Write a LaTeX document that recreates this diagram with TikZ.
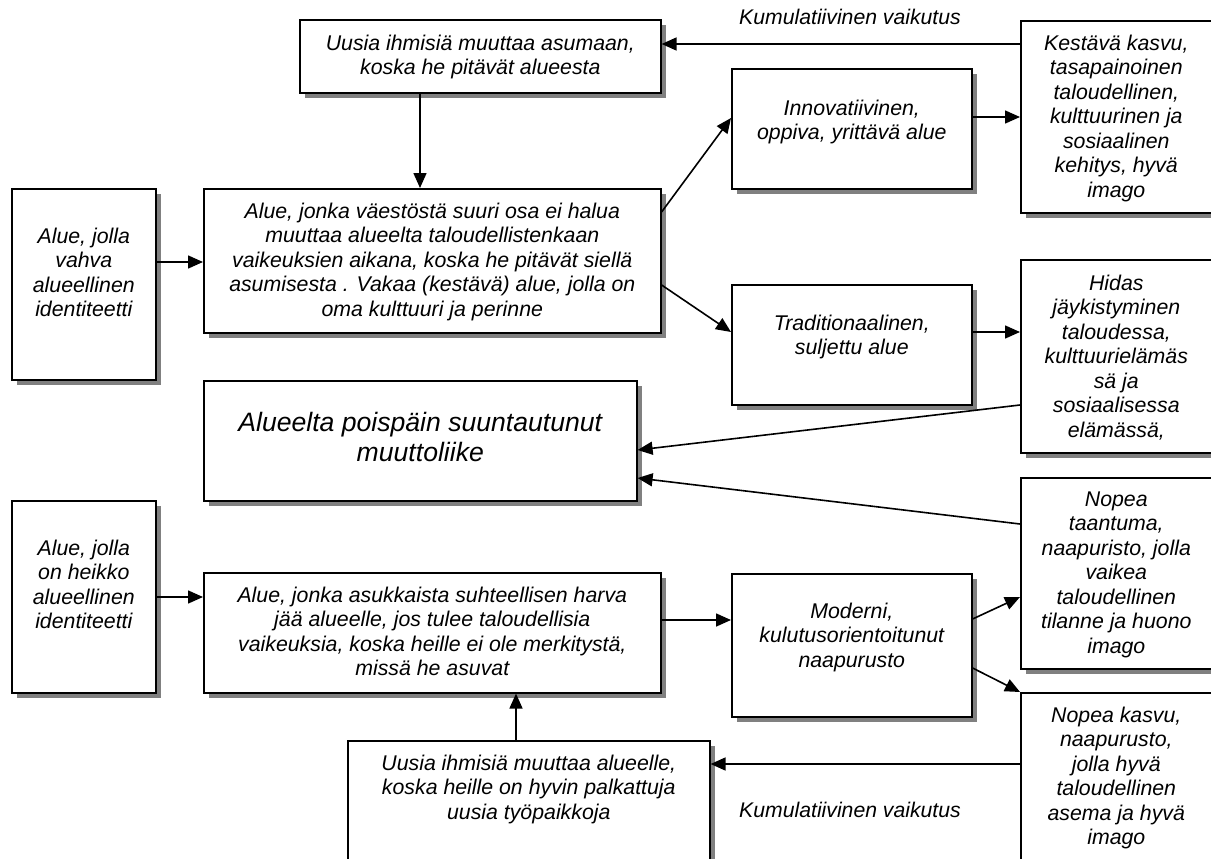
\documentclass[tikz,border=0pt]{standalone}
\usepackage{fontspec}
\setmainfont{Liberation Sans}
\usetikzlibrary{arrows.meta,shadows,calc}
\definecolor{shadowgray}{RGB}{128,128,128}
\begin{document}
\begin{tikzpicture}[x=1pt,y=-1pt,
  box/.style={draw, line width=1.6pt, fill=white, rectangle, inner sep=0pt, anchor=north west,
    general shadow={fill=shadowgray, shadow xshift=5pt, shadow yshift=-5pt}},
  txt/.style={align=center, anchor=north, inner sep=0pt, font=\itshape\fontsize{21.3}{24.5}\selectfont},
  big/.style={txt, font=\itshape\fontsize{26.6}{30.4}\selectfont},
  lab/.style={anchor=base, inner sep=0pt, font=\itshape\fontsize{21.2}{24.5}\selectfont},
  arr/.style={line width=1.6pt, -{Triangle[length=15pt,width=13pt]}}]
\clip (0,0) rectangle (1211,859);
\fill[white] (0,0) rectangle (1211,859);
% boxes
\node[box, minimum width=361pt, minimum height=73pt] (top) at (299,19) {};
\node[box, minimum width=191pt, minimum height=192pt] (kest) at (1020,20) {};
\node[box, minimum width=240pt, minimum height=120pt] (innov) at (731,68) {};
\node[box, minimum width=457pt, minimum height=144pt] (main1) at (203,188) {};
\node[box, minimum width=144pt, minimum height=191pt] (left1) at (11,188) {};
\node[box, minimum width=240pt, minimum height=120pt] (trad) at (731,284) {};
\node[box, minimum width=191pt, minimum height=193pt] (hidas) at (1020,259) {};
\node[box, minimum width=433pt, minimum height=120pt] (poisp) at (203,380) {};
\node[box, minimum width=191pt, minimum height=191pt] (nopeat) at (1020,477) {};
\node[box, minimum width=144pt, minimum height=192pt] (left2) at (11,500) {};
\node[box, minimum width=457pt, minimum height=120pt] (main2) at (203,572) {};
\node[box, minimum width=240pt, minimum height=143pt] (moderni) at (731,573) {};
\node[box, minimum width=191pt, minimum height=190pt] (nopeak) at (1020,692) {};
\node[box, minimum width=362pt, minimum height=140pt] (bottom) at (347,740) {};
% texts
\node[txt] (ttop) at ($(top.north)+(0,15.6)$) {Uusia ihmisiä muuttaa asumaan,\\koska he pitävät alueesta};
\node[txt] (tkest) at ($(kest.north)+(0,14.6)$) {Kestävä kasvu,\\tasapainoinen\\taloudellinen,\\kulttuurinen ja\\sosiaalinen\\kehitys, hyvä\\imago};
\node[txt] (tinnov) at ($(innov.north)+(0,31.6)$) {Innovatiivinen,\\oppiva, yrittävä alue};
\node[txt] (tmain1) at ($(main1.north)+(0,14.6)$) {Alue, jonka väestöstä suuri osa ei halua\\muuttaa alueelta taloudellistenkaan\\vaikeuksien aikana, koska he pitävät siellä\\asumisesta . Vakaa (kestävä) alue, jolla on\\oma kulttuuri ja perinne};
\node[txt] (tleft1) at ($(left1.north)+(0,39.6)$) {Alue, jolla\\vahva\\alueellinen\\identiteetti};
\node[txt] (ttrad) at ($(trad.north)+(0,30.6)$) {Traditionaalinen,\\suljettu alue};
\node[txt] (thidas) at ($(hidas.north)+(0,15.6)$) {Hidas\\jäykistyminen\\taloudessa,\\kulttuurielämäs\\sä ja\\sosiaalisessa\\elämässä,};
\node[big] (tpoisp) at ($(poisp.north)+(0,31.6)$) {Alueelta poispäin suuntautunut\\muuttoliike};
\node[txt] (tnopeat) at ($(nopeat.north)+(0,14.6)$) {Nopea\\taantuma,\\naapuristo, jolla\\vaikea\\taloudellinen\\tilanne ja huono\\imago};
\node[txt] (tleft2) at ($(left2.north)+(0,39.6)$) {Alue, jolla\\on heikko\\alueellinen\\identiteetti};
\node[txt] (tmain2) at ($(main2.north)+(0,14.6)$) {Alue, jonka asukkaista suhteellisen harva\\jää alueelle, jos tulee taloudellisia\\vaikeuksia, koska heille ei ole merkitystä,\\missä he asuvat};
\node[txt] (tmoderni) at ($(moderni.north)+(0,29.6)$) {Moderni,\\kulutusorientoitunut\\naapurusto};
\node[txt] (tnopeak) at ($(nopeak.north)+(0,14.6)$) {Nopea kasvu,\\naapurusto,\\jolla hyvä\\taloudellinen\\asema ja hyvä\\imago};
\node[txt] (tbottom) at ($(bottom.north)+(0,14.6)$) {Uusia ihmisiä muuttaa alueelle,\\koska heille on hyvin palkattuja\\uusia työpaikkoja};
\node[lab] (lab1) at (850,25) {Kumulatiivinen vaikutus};
\node[lab] (lab2) at (850,817) {Kumulatiivinen vaikutus};
% connectors
\draw[arr] ([yshift=-24pt]kest.north west) -- ([yshift=-25pt]top.north east);
\draw[arr] ([xshift=121pt]top.south west) -- ([xshift=217pt]main1.north west);
\draw[arr] ([yshift=-74pt]left1.north east) -- ([yshift=-74pt]main1.north west);
\draw[arr] ([yshift=-24pt]main1.north east) -- ([yshift=-50pt]innov.north west);
\draw[arr] ([yshift=-97pt]main1.north east) -- ([yshift=-48pt]trad.north west);
\draw[arr] ([yshift=-49pt]innov.north east) -- ([yshift=-97pt]kest.north west);
\draw[arr] ([yshift=-48pt]trad.north east) -- ([yshift=-73pt]hidas.north west);
\draw[arr] ([yshift=-146pt]hidas.north west) -- ([yshift=-70pt]poisp.north east);
\draw[arr] ([yshift=-47pt]nopeat.north west) -- ([yshift=-98pt]poisp.north east);
\draw[arr] ([yshift=-97pt]left2.north east) -- ([yshift=-25pt]main2.north west);
\draw[arr] ([yshift=-48pt]main2.north east) -- ([yshift=-47pt]moderni.north west);
\draw[arr] ([yshift=-46pt]moderni.north east) -- ([yshift=-120pt]nopeat.north west);
\draw[arr] ([yshift=-95pt]moderni.north east) -- (nopeak.north west);
\draw[arr] ([yshift=-72pt]nopeak.north west) -- ([yshift=-24pt]bottom.north east);
\draw[arr] ([xshift=169pt]bottom.north west) -- ([xshift=313pt]main2.south west);
\end{tikzpicture}
\end{document}
